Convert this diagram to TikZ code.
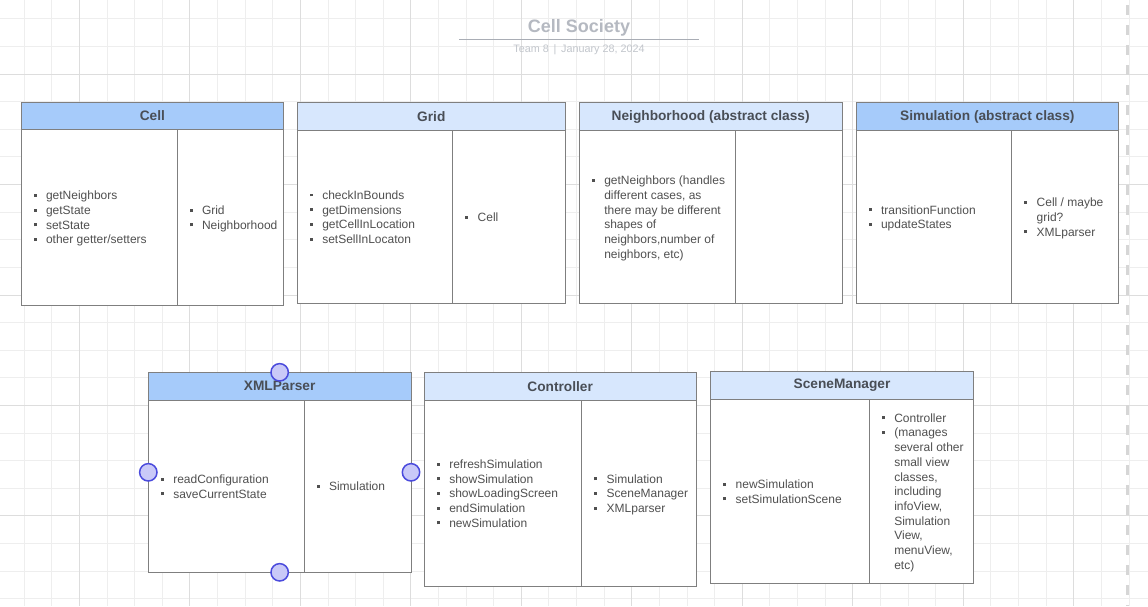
\documentclass[tikz,border=0pt]{standalone}
\usepackage{fontspec}
\setmainfont{Liberation Sans}
\usetikzlibrary{calc}
\definecolor{gminor}{HTML}{EEEEEE}
\definecolor{gmajor}{HTML}{DDDDDD}
\definecolor{border}{HTML}{7F7F7F}
\definecolor{hdark}{HTML}{A6CBFA}
\definecolor{hlight}{HTML}{D7E7FD}
\definecolor{htext}{HTML}{494E56}
\definecolor{btext}{HTML}{505050}
\definecolor{hfill}{HTML}{C9C9F8}
\definecolor{hstroke}{HTML}{4B4BDD}
\definecolor{ttl}{HTML}{B5B9C1}
\definecolor{ulc}{HTML}{A9ADB5}
\definecolor{subc}{HTML}{C2C6CC}
\definecolor{dashc}{HTML}{D6D6D6}
\newcommand\blt{\makebox[12.3pt][l]{\rule[2.9pt]{2.9pt}{2.9pt}}}
\newcommand\hdtxt[1]{\raisebox{-1.2pt}{#1}}
\tikzset{
  hdr/.style={draw=border, line width=1pt, anchor=north west, minimum height=28pt,
    inner sep=0pt, outer sep=0pt, font=\fontsize{13.7}{16}\selectfont\bfseries, text=htext},
  colbox/.style={draw=border, line width=1pt, fill=white, anchor=north west,
    inner sep=0pt, outer sep=0pt},
  lst/.style={anchor=west, inner sep=0pt, outer sep=0pt, yshift=-1.5pt, font=\fontsize{12}{14.7}\selectfont, text=btext},
  handle/.style={circle, draw=hstroke, fill=hfill, line width=1.5pt, minimum size=17.4pt, inner sep=0pt},
}
\begin{document}
\begin{tikzpicture}[x=1pt,y=-1pt]
\useasboundingbox (0,0) rectangle (1148,606);
\fill[white] (0,0) rectangle (1148,606);
% background grid
\foreach \k in {-2,...,38} \draw[gminor, line width=0.9pt] ({79.4+27.62*\k},0) -- ++(0,606);
\foreach \k in {-2,...,19} \draw[gminor, line width=0.9pt] (0,{74+27.62*\k}) -- ++(1148,0);
\foreach \k in {0,...,9} \draw[gmajor, line width=0.9pt] ({79.4+110.48*\k},0) -- ++(0,606);
\foreach \k in {0,...,4} \draw[gmajor, line width=0.9pt] (0,{74+110.48*\k}) -- ++(1148,0);
% page edge
\coordinate (dtop) at (1127.5,0);
\coordinate (dbot) at (1127.5,606);
\draw[dashc, line width=2.6pt, dash pattern=on 10pt off 10pt, dash phase=15pt] (dtop) -- (dbot);
% title
\node[font=\fontsize{18}{20}\selectfont\bfseries, text=ttl, inner sep=0pt] (title) at (579,27.5) {Cell Society};
\coordinate (ul1) at (459,39.3);
\coordinate (ul2) at (699,39.3);
\draw[ulc, line width=1.1pt] (ul1) -- (ul2);
\node[font=\fontsize{10.8}{12}\selectfont, text=subc, inner sep=0pt] (sub) at (579,50) {Team 8 \,|\, January 28, 2024};

% ---- Cell
\node[hdr, fill=hdark, minimum width=262.7pt, minimum height=26.6pt] (cellh) at (21,102.7) {\hdtxt{Cell}};
\node[colbox, minimum width=156pt, minimum height=176.4pt] (cellL) at (cellh.south west) {};
\node[colbox, minimum width=106.7pt, minimum height=176.4pt] (cellR) at (cellL.north east) {};
\node[lst] (cellLt) at ([xshift=12.7pt]cellL.west) {\begin{tabular}{@{}l@{}l@{}}
\blt & getNeighbors\\ \blt & getState\\ \blt & setState\\ \blt & other getter/setters\end{tabular}};
\node[lst] (cellRt) at ([xshift=12.7pt]cellR.west) {\begin{tabular}{@{}l@{}l@{}}
\blt & Grid\\ \blt & Neighborhood\end{tabular}};

% ---- Grid
\node[hdr, fill=hlight, minimum width=268pt] (gridh) at (297.3,102.7) {\hdtxt{Grid}};
\node[colbox, minimum width=155.4pt, minimum height=172.6pt] (gridL) at (gridh.south west) {};
\node[colbox, minimum width=112.6pt, minimum height=172.6pt] (gridR) at (gridL.north east) {};
\node[lst] (gridLt) at ([xshift=12.7pt]gridL.west) {\begin{tabular}{@{}l@{}l@{}}
\blt & checkInBounds\\ \blt & getDimensions\\ \blt & getCellInLocation\\ \blt & setSellInLocaton\end{tabular}};
\node[lst] (gridRt) at ([xshift=12.7pt]gridR.west) {\begin{tabular}{@{}l@{}l@{}}
\blt & Cell\end{tabular}};

% ---- Neighborhood
\node[hdr, fill=hlight, minimum width=262.7pt] (nbh) at (579.3,102.7) {\hdtxt{Neighborhood (abstract class)}};
\node[colbox, minimum width=155.7pt, minimum height=172.6pt] (nbL) at (nbh.south west) {};
\node[colbox, minimum width=107pt, minimum height=172.6pt] (nbR) at (nbL.north east) {};
\node[lst] (nbLt) at ([xshift=12.7pt]nbL.west) {\begin{tabular}{@{}l@{}l@{}}
\blt & getNeighbors (handles\\ & different cases, as\\ & there may be different\\ & shapes of\\ & neighbors,number of\\ & neighbors, etc)\end{tabular}};

% ---- Simulation
\node[hdr, fill=hdark, minimum width=262.7pt] (simh) at (856,102.7) {\hdtxt{Simulation (abstract class)}};
\node[colbox, minimum width=155.7pt, minimum height=172.6pt] (simL) at (simh.south west) {};
\node[colbox, minimum width=107pt, minimum height=172.6pt] (simR) at (simL.north east) {};
\node[lst] (simLt) at ([xshift=12.7pt]simL.west) {\begin{tabular}{@{}l@{}l@{}}
\blt & transitionFunction\\ \blt & updateStates\end{tabular}};
\node[lst] (simRt) at ([xshift=12.7pt]simR.west) {\begin{tabular}{@{}l@{}l@{}}
\blt & Cell / maybe\\ & grid?\\ \blt & XMLparser\end{tabular}};

% ---- XMLParser
\node[hdr, fill=hdark, minimum width=262.7pt] (xmlh) at (148.3,372.3) {\hdtxt{XMLParser}};
\node[colbox, minimum width=155.7pt, minimum height=172pt] (xmlL) at (xmlh.south west) {};
\node[colbox, minimum width=107pt, minimum height=172pt] (xmlR) at (xmlL.north east) {};
\node[lst] (xmlLt) at ([xshift=12.7pt]xmlL.west) {\begin{tabular}{@{}l@{}l@{}}
\blt & readConfiguration\\ \blt & saveCurrentState\end{tabular}};
\node[lst] (xmlRt) at ([xshift=12.7pt]xmlR.west) {\begin{tabular}{@{}l@{}l@{}}
\blt & Simulation\end{tabular}};
\node[handle] (hn) at (xmlh.north) {};
\node[handle] (hs) at (xmlL.south east -| xmlh.north) {};
\node[handle] (hw) at ($(xmlh.north west)!0.5!(xmlL.south west)$) {};
\node[handle] (he) at ($(xmlh.north east)!0.5!(xmlR.south east)$) {};

% ---- Controller
\node[hdr, fill=hlight, minimum width=271.7pt] (ctrh) at (424.3,372.7) {\hdtxt{Controller}};
\node[colbox, minimum width=157.4pt, minimum height=185.3pt] (ctrL) at (ctrh.south west) {};
\node[colbox, minimum width=114.3pt, minimum height=185.3pt] (ctrR) at (ctrL.north east) {};
\node[lst] (ctrLt) at ([xshift=12.7pt]ctrL.west) {\begin{tabular}{@{}l@{}l@{}}
\blt & refreshSimulation\\ \blt & showSimulation\\ \blt & showLoadingScreen\\ \blt & endSimulation\\ \blt & newSimulation\end{tabular}};
\node[lst] (ctrRt) at ([xshift=12.7pt]ctrR.west) {\begin{tabular}{@{}l@{}l@{}}
\blt & Simulation\\ \blt & SceneManager\\ \blt & XMLparser\end{tabular}};

% ---- SceneManager
\node[hdr, fill=hlight, minimum width=262.6pt, minimum height=27.6pt] (scnh) at (710.7,371.7) {\hdtxt{SceneManager}};
\node[colbox, minimum width=158.6pt, minimum height=184pt] (scnL) at (scnh.south west) {};
\node[colbox, minimum width=104pt, minimum height=184pt] (scnR) at (scnL.north east) {};
\node[lst] (scnLt) at ([xshift=12.7pt]scnL.west) {\begin{tabular}{@{}l@{}l@{}}
\blt & newSimulation\\ \blt & setSimulationScene\end{tabular}};
\node[lst] (scnRt) at ([xshift=12.7pt]scnR.west) {\begin{tabular}{@{}l@{}l@{}}
\blt & Controller\\ \blt & (manages\\ & several other\\ & small view\\ & classes,\\ & including\\ & infoView,\\ & Simulation\\ & View,\\ & menuView,\\ & etc)\end{tabular}};
\end{tikzpicture}
\end{document}
